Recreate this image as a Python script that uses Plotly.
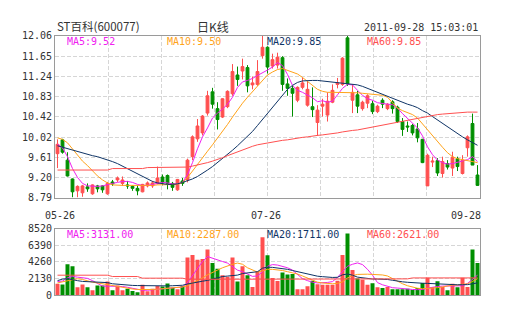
import plotly.graph_objects as go

# ---- daily K-line data (ST百科 600077) ----
opens = [9.68, 9.96, 9.55, 9.17, 8.93, 8.89, 9.01, 8.87, 9.03, 9.03,
         8.87, 9.11, 9.15, 9.08, 9.05, 9.02, 8.98, 8.91, 9.03, 9.03,
         9.08, 9.21, 9.24, 9.08, 8.95, 9.13, 9.15, 9.62, 9.98, 10.10,
         10.50, 10.93, 10.59, 10.42, 10.63, 10.89, 11.27, 11.35, 11.42, 11.07,
         11.08, 11.66, 11.83, 11.45, 11.47, 11.62, 11.09, 11.00, 10.76, 11.02,
         10.66, 10.63, 10.31, 10.64, 10.46, 10.72, 11.08, 11.08, 12.02, 10.76,
         10.87, 10.59, 10.70, 10.69, 10.53, 10.76, 10.59, 10.73, 10.62, 10.33,
         10.24, 10.25, 10.18, 9.97, 9.03, 9.51, 9.54, 9.28, 9.48, 9.39,
         9.58, 9.28, 9.80, 10.29, 9.25]
highs = [9.97, 9.98, 9.71, 9.18, 9.04, 9.05, 9.08, 9.06, 9.05, 9.04,
         9.11, 9.15, 9.22, 9.22, 9.13, 9.04, 9.04, 9.07, 9.12, 9.13,
         9.42, 9.26, 9.26, 9.11, 9.17, 9.19, 9.58, 10.05, 10.38, 10.46,
         10.95, 11.01, 10.72, 10.80, 10.96, 11.49, 11.44, 11.60, 11.47, 11.24,
         11.57, 12.06, 11.85, 11.70, 11.72, 11.65, 11.20, 11.05, 11.04, 11.22,
         11.15, 11.02, 10.66, 10.79, 10.92, 11.08, 11.21, 11.63, 12.06, 11.08,
         10.95, 10.75, 10.88, 10.75, 10.67, 10.80, 10.70, 10.76, 10.65, 10.40,
         10.33, 10.28, 10.30, 9.98, 9.68, 9.62, 9.59, 9.62, 9.55, 9.72,
         9.62, 9.65, 10.05, 10.49, 9.45]
lows = [9.39, 9.68, 9.22, 8.80, 8.80, 8.81, 8.91, 8.85, 8.90, 8.89,
        8.85, 9.03, 9.11, 9.03, 8.97, 8.93, 8.84, 8.90, 9.00, 8.99,
        9.06, 9.04, 8.96, 8.93, 8.93, 9.03, 9.10, 9.55, 9.92, 10.05,
        10.45, 10.59, 10.17, 10.40, 10.60, 10.85, 11.05, 11.18, 10.92, 10.98,
        11.05, 11.60, 11.30, 11.40, 11.40, 10.95, 10.85, 10.43, 10.72, 10.98,
        10.63, 10.42, 10.04, 10.43, 10.33, 10.70, 11.00, 11.05, 11.05, 10.50,
        10.50, 10.55, 10.60, 10.48, 10.50, 10.60, 10.56, 10.49, 10.30, 10.04,
        10.12, 10.05, 9.91, 9.49, 9.03, 9.41, 9.23, 9.20, 9.36, 9.23,
        9.33, 9.26, 9.62, 9.45, 9.03]
closes = [9.87, 9.71, 9.23, 8.91, 9.02, 9.03, 8.97, 9.05, 8.97, 8.95,
          9.08, 9.07, 9.19, 9.15, 9.03, 8.98, 8.93, 9.06, 9.09, 9.09,
          9.19, 9.09, 9.08, 9.00, 9.16, 9.08, 9.55, 10.02, 10.24, 10.44,
          10.85, 10.68, 10.37, 10.79, 10.94, 11.34, 11.18, 11.44, 11.05, 11.11,
          11.34, 11.83, 11.43, 11.58, 11.63, 11.08, 11.00, 10.90, 11.02, 11.11,
          10.98, 10.57, 10.56, 10.68, 10.74, 10.96, 11.11, 11.61, 11.09, 10.92,
          10.64, 10.72, 10.85, 10.53, 10.64, 10.68, 10.68, 10.59, 10.33, 10.17,
          10.22, 10.10, 10.00, 9.50, 9.65, 9.53, 9.29, 9.52, 9.41, 9.61,
          9.42, 9.55, 10.02, 9.45, 9.04]

volumes = [1440, 1360, 3950, 3700, 990, 1360, 990, 620, 1235, 1235,
           1730, 620, 1235, 620, 820, 535, 370, 1320, 500, 820,
           1150, 1110, 1480, 950, 740, 1150, 4820, 5150, 4530, 4610,
           5840, 4110, 3370, 2550, 2350, 4820, 1730, 3700, 2550, 1030,
           3050, 7410, 5100, 2200, 1800, 2880, 2650, 2700, 760, 760,
           1130, 1850, 1380, 1340, 1340, 1340, 1850, 5150, 7900, 3200,
           2140, 1980, 1320, 1520, 990, 905, 1030, 740, 740, 740,
           820, 660, 905, 1560, 2220, 1030, 1770, 1030, 620, 1440,
           990, 2220, 1030, 5850, 4120]

# ---- moving averages of price ----
ma5 = [9.87, 9.80, 9.62, 9.38, 9.20, 9.08, 9.03, 9.02, 9.02, 9.03,
       9.06, 9.08, 9.10, 9.12, 9.12, 9.10, 9.06, 9.04, 9.04, 9.06,
       9.08, 9.10, 9.09, 9.07, 9.07, 9.10, 9.26, 9.50, 9.78, 10.02,
       10.20, 10.40, 10.50, 10.58, 10.68, 10.82, 11.02, 11.13, 11.16, 11.20,
       11.26, 11.31, 11.37, 11.43, 11.52, 11.46, 11.28, 11.06, 10.96, 10.92,
       10.86, 10.81, 10.73, 10.75, 10.72, 10.74, 10.87, 11.00, 11.08, 11.07,
       10.96, 10.86, 10.79, 10.76, 10.71, 10.69, 10.68, 10.67, 10.60, 10.49,
       10.39, 10.29, 10.20, 10.04, 9.82, 9.66, 9.55, 9.50, 9.47, 9.48,
       9.51, 9.53, 9.56, 9.62, 9.52]
ma10 = [10.00, 9.97, 9.90, 9.78, 9.65, 9.53, 9.44, 9.33, 9.23, 9.15,
        9.09, 9.05, 9.04, 9.04, 9.04, 9.04, 9.04, 9.03, 9.03, 9.04,
        9.05, 9.05, 9.05, 9.05, 9.06, 9.10, 9.20, 9.33, 9.47, 9.60,
        9.73, 9.86, 9.99, 10.13, 10.27, 10.42, 10.57, 10.70, 10.82, 10.93,
        11.05, 11.17, 11.27, 11.33, 11.38, 11.40, 11.36, 11.33, 11.29, 11.22,
        11.14, 11.06, 10.98, 10.94, 10.92, 10.92, 10.92, 10.92, 10.92, 10.91,
        10.91, 10.90, 10.89, 10.88, 10.88, 10.86, 10.82, 10.70, 10.60, 10.55,
        10.51, 10.47, 10.40, 10.28, 10.15, 10.04, 9.93, 9.81, 9.70, 9.62,
        9.58, 9.56, 9.54, 9.52, 9.50]
ma20 = [9.84, 9.81, 9.78, 9.75, 9.72, 9.70, 9.67, 9.64, 9.62, 9.59,
        9.56, 9.52, 9.48, 9.43, 9.38, 9.33, 9.27, 9.22, 9.17, 9.12,
        9.09, 9.07, 9.06, 9.06, 9.07, 9.10, 9.13, 9.17, 9.22, 9.28,
        9.35, 9.42, 9.50, 9.58, 9.66, 9.75, 9.84, 9.93, 10.02, 10.13,
        10.25, 10.37, 10.50, 10.62, 10.75, 10.87, 10.98, 11.06, 11.12, 11.15,
        11.16, 11.16, 11.16, 11.15, 11.14, 11.13, 11.12, 11.11, 11.10, 11.09,
        11.07, 11.04, 11.00, 10.95, 10.92, 10.88, 10.84, 10.80, 10.76, 10.72,
        10.68, 10.65, 10.61, 10.55, 10.50, 10.43, 10.36, 10.29, 10.22, 10.15,
        10.08, 10.02, 9.96, 9.90, 9.85]
ma60 = [9.35, 9.35, 9.35, 9.35, 9.35, 9.35, 9.35, 9.35, 9.35, 9.35,
        9.35, 9.38, 9.38, 9.38, 9.38, 9.38, 9.38, 9.38, 9.40, 9.40,
        9.40, 9.40, 9.40, 9.40, 9.40, 9.40, 9.41, 9.43, 9.45, 9.47,
        9.50, 9.53, 9.56, 9.60, 9.64, 9.68, 9.71, 9.75, 9.79, 9.83,
        9.86, 9.88, 9.90, 9.92, 9.93, 9.95, 9.96, 9.98, 9.99, 10.01,
        10.02, 10.04, 10.05, 10.06, 10.07, 10.08, 10.10, 10.12, 10.14, 10.15,
        10.16, 10.18, 10.20, 10.22, 10.24, 10.26, 10.28, 10.30, 10.32, 10.34,
        10.36, 10.38, 10.40, 10.42, 10.44, 10.46, 10.47, 10.48, 10.49, 10.50,
        10.51, 10.51, 10.52, 10.52, 10.52]

# ---- moving averages of volume ----
vma5 = [1730, 1800, 2200, 2390, 2300, 2200, 2140, 1850, 1450, 1150,
        1150, 1150, 1150, 1100, 1000, 870, 700, 620, 620, 680,
        800, 870, 950, 1000, 1030, 1050, 1600, 2500, 3400, 4300,
        4940, 4700, 4550, 4300, 4100, 3700, 3200, 3000, 2700, 2400,
        2450, 3000, 3700, 3910, 3850, 3700, 3500, 3200, 2700, 2100,
        1850, 1650, 1560, 1560, 1620, 1730, 2260, 3000, 3700, 3950,
        4120, 3910, 3300, 2550, 1600, 1320, 1100, 950, 900, 820,
        740, 720, 700, 720, 900, 1030, 1100, 1150, 1150, 1150,
        1150, 1200, 1500, 1980, 2550]
vma10 = [1560, 1700, 1900, 2050, 2100, 2000, 1800, 1650, 1560, 1450,
         1300, 1150, 1050, 950, 850, 780, 720, 700, 700, 720,
         760, 820, 880, 950, 1000, 1040, 1200, 1500, 1850, 2200,
         2600, 2950, 3200, 3500, 3750, 3950, 4100, 3950, 3500, 3200,
         2950, 3100, 3300, 3300, 3250, 3150, 3000, 2850, 2700, 2450,
         2150, 1900, 1650, 1550, 1480, 1450, 1500, 1700, 2200, 2500,
         2650, 2700, 2680, 2650, 2620, 2580, 2450, 2100, 1750, 1450,
         1200, 1000, 880, 820, 850, 890, 950, 1050, 1200, 1280,
         1300, 1330, 1450, 1750, 2100]
vma20 = [1850, 2050, 2100, 1950, 1850, 1750, 1730, 1730, 1720, 1700,
         1600, 1450, 1380, 1320, 1280, 1240, 1220, 1200, 1180, 1160,
         1150, 1160, 1180, 1200, 1230, 1260, 1420, 1560, 1680, 1780,
         1880, 2050, 2300, 2380, 2440, 2480, 2560, 2760, 2860, 2900,
         3000, 3450, 3580, 3550, 3480, 3400, 3300, 3150, 3000, 2850,
         2700, 2500, 2420, 2360, 2300, 2260, 2280, 2600, 2700, 2550,
         2300, 2200, 2120, 2060, 2050, 2050, 2000, 1900, 1760, 1700,
         1640, 1580, 1560, 1520, 1500, 1460, 1440, 1400, 1330, 1320,
         1320, 1330, 1340, 1450, 1560]
vma60 = [2550, 2550, 2550, 2550, 2550, 2550, 2550, 2550, 2550, 2550,
         2550, 2380, 2380, 2380, 2380, 2380, 2380, 2170, 2170, 2170,
         2170, 2170, 2170, 2170, 2170, 2170, 2020, 2020, 2020, 2020,
         2020, 2020, 2020, 2020, 2020, 2020, 2020, 2020, 2020, 2020,
         2020, 2020, 2020, 2020, 2020, 2020, 2020, 2020, 2020, 2020,
         2020, 2080, 2080, 2080, 2080, 2080, 2080, 2080, 2080, 2080,
         2080, 2080, 2080, 2080, 2080, 2080, 2080, 2080, 2080, 2080,
         2080, 2200, 2200, 2200, 2200, 2200, 2200, 2200, 2200, 2200,
         2200, 2200, 2200, 2200, 2200]

# ---- axis labels and header texts ----
price_ticks = [8.79, 9.19875, 9.6075, 10.01625, 10.425, 10.83375, 11.2425, 11.65125, 12.06]
price_tick_text = ["8.79", "9.20", "9.61", "10.02", "10.42", "10.83", "11.24", "11.65", "12.06"]
vol_ticks = [0, 2130, 4260, 6390, 8520]
vol_tick_text = ["0", "2130", "4260", "6390", "8520"]
date_tick_idx = [0, 42, 84]
date_tick_text = ["05-26", "07-26", "09-28"]
price_ma_labels = ["MA5:9.52", "MA10:9.50", "MA20:9.85", "MA60:9.85"]
vol_ma_labels = ["MA5:3131.00", "MA10:2287.00", "MA20:1711.00", "MA60:2621.00"]
stock_title = "ST百科(600077)"
period_title = "日K线"
timestamp = "2011-09-28 15:03:01"

# ---- styling ----
W, H = 505, 330
UP, DOWN = "#FF4F4F", "#008F00"
MA_COLORS = ["#F020F0", "#FFA31A", "#0F3466", "#FF5050"]
GRID = "#D6D6D6"
FRAME = "#9A9A9A"
TXT = "#333333"
MONO = "DejaVu Sans Mono, Liberation Mono, monospace"
CJK = "Noto Sans CJK SC, sans-serif"

n = len(closes)
xs = list(range(n))


def px_x(p):
    return p / W


def px_y(p):
    return 1 - p / H


fig = go.Figure()

fig.add_trace(go.Candlestick(
    x=xs, open=opens, high=highs, low=lows, close=closes,
    increasing=dict(line=dict(color=UP, width=1), fillcolor=UP),
    decreasing=dict(line=dict(color=DOWN, width=1), fillcolor=DOWN),
    whiskerwidth=0, hoverinfo="skip", xaxis="x", yaxis="y",
))

for series, col in zip([ma5, ma10, ma20, ma60], MA_COLORS):
    fig.add_trace(go.Scatter(x=xs, y=series, mode="lines",
                             line=dict(color=col, width=1),
                             hoverinfo="skip", xaxis="x", yaxis="y"))

bar_colors = [UP if c >= o else DOWN for o, c in zip(opens, closes)]
fig.add_trace(go.Bar(x=xs, y=volumes, marker=dict(color=bar_colors, line=dict(width=0)),
                     width=0.8, hoverinfo="skip", xaxis="x2", yaxis="y2"))

for series, col in zip([vma5, vma10, vma20, vma60], MA_COLORS):
    fig.add_trace(go.Scatter(x=xs, y=series, mode="lines",
                             line=dict(color=col, width=1),
                             hoverinfo="skip", xaxis="x2", yaxis="y2"))

xdom = [px_x(55), px_x(480)]
vgrid = [-0.5 + n / 8 * k for k in range(1, 8)]

common_x = dict(range=[-0.5, n - 0.5], domain=xdom, tickvals=vgrid,
                showticklabels=False, ticks="", showgrid=True, gridcolor=GRID,
                griddash="4px,2px", gridwidth=1, zeroline=False,
                showline=True, mirror=True, linecolor=FRAME, linewidth=1,
                fixedrange=True)
common_y = dict(showgrid=True, gridcolor=GRID, griddash="4px,2px", gridwidth=1,
                zeroline=False, showline=True, mirror=True, linecolor=FRAME,
                linewidth=1, ticks="", tickfont=dict(family=MONO, size=10, color=TXT),
                fixedrange=True)

fig.update_layout(
    width=W, height=H, margin=dict(l=0, r=0, t=0, b=0),
    paper_bgcolor="white", plot_bgcolor="white",
    showlegend=False, hovermode=False, boxgap=0.2,
    xaxis=dict(common_x, anchor="y", rangeslider=dict(visible=False)),
    xaxis2=dict(common_x, anchor="y2"),
    yaxis=dict(common_y, domain=[px_y(199), px_y(31)], range=[8.79, 12.06],
               tickvals=price_ticks, ticktext=price_tick_text, anchor="x"),
    yaxis2=dict(common_y, domain=[px_y(300), px_y(231)], range=[0, 8520],
                tickvals=vol_ticks, ticktext=vol_tick_text, anchor="x2"),
)

ann = []
# MA legends inside both panels
for k, (pl, vl, col) in enumerate(zip(price_ma_labels, vol_ma_labels, MA_COLORS)):
    ann.append(dict(x=px_x(65 + 100 * k), y=px_y(37), xref="paper", yref="paper",
                    text=pl, showarrow=False, xanchor="left", yanchor="middle",
                    font=dict(family=MONO, size=10, color=col)))
    ann.append(dict(x=px_x(65 + 100 * k), y=px_y(237), xref="paper", yref="paper",
                    text=vl, showarrow=False, xanchor="left", yanchor="middle",
                    font=dict(family=MONO, size=10, color=col)))

# date labels under the price panel
anchors = ["center", "center", "right"]
shifts = [2, -2, 3]
for idx, txt, a, s in zip(date_tick_idx, date_tick_text, anchors, shifts):
    xv = idx + 0.5 if a == "right" else idx
    ann.append(dict(x=xv, y=px_y(217), xref="x", yref="paper", text=txt,
                    showarrow=False, xanchor=a, yanchor="middle", xshift=s,
                    font=dict(family=MONO, size=10, color=TXT)))

# header row
ann.append(dict(x=px_x(55), y=px_y(21), xref="paper", yref="paper", text=stock_title,
                showarrow=False, xanchor="left", yanchor="middle",
                font=dict(family=CJK, size=11.5, color=TXT)))
ann.append(dict(x=px_x(213), y=px_y(21), xref="paper", yref="paper", text=period_title,
                showarrow=False, xanchor="center", yanchor="middle",
                font=dict(family=CJK, size=12, color=TXT)))
ann.append(dict(x=px_x(480), y=px_y(22), xref="paper", yref="paper", text=timestamp,
                showarrow=False, xanchor="right", yanchor="middle",
                font=dict(family=MONO, size=10, color=TXT)))

fig.update_layout(annotations=ann)

fig.write_html("out.html")
